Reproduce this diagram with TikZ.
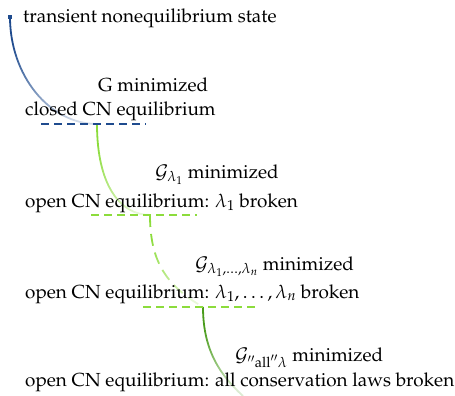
\documentclass[tikz,border=0pt]{standalone}
\usepackage[T1]{fontenc}
\usepackage{mathpazo}
\usetikzlibrary{fadings}
\tikzfading[name=fadeout, top color=transparent!0, bottom color=transparent!80]
\definecolor{cblue}{HTML}{1F4B8E}
\definecolor{clight}{HTML}{8CDC3C}
\definecolor{cdark}{HTML}{4A9C1C}
\begin{document}
\begin{tikzpicture}[x=1pt,y=-1pt,
  lbl/.style={anchor=base west, inner sep=0pt, font=\fontsize{18.9}{22}\selectfont},
  eqline/.style={line width=1.5pt, dash pattern=on 8pt off 5pt},
  trace/.style={line width=1.8pt, path fading=fadeout, fading angle=40}]
\useasboundingbox (0,0) rectangle (455,396);
% coordinates
\coordinate (s0) at (10,17);
\coordinate (b1) at (97,124);
\coordinate (b2) at (150,215);
\coordinate (b3) at (203,307);
\coordinate (end) at (243,396);
\coordinate (l1a) at (41,124); \coordinate (l1b) at (146,124);
\coordinate (l2a) at (91,215); \coordinate (l2b) at (197,215);
\coordinate (l3a) at (143,307); \coordinate (l3b) at (257,307);
% traces
\draw[trace, cblue] (s0) .. controls (10,75) and (49,124) .. (b1);
\draw[trace, clight] (b1) .. controls (97,185) and (120,215) .. (b2);
\draw[trace, clight, dash pattern=on 12pt off 7pt] (b2) .. controls (150,260) and (165,285) .. (b3);
\draw[trace, cdark] (b3) .. controls (203,350) and (220,375) .. (end);
\fill[cblue] (8.3,15) rectangle (11.7,19.5);
% equilibrium lines
\draw[eqline, cblue] (l1a) -- (l1b);
\draw[eqline, clight] (l2a) -- (l2b);
\draw[eqline, clight] (l3a) -- (l3b);
% texts
\node[lbl] (t0) at (23,23) {transient nonequilibrium state};
\node[lbl] (m1) at (98,92) {G minimized};
\node[lbl] (e1) at (25,115) {closed CN equilibrium};
\node[lbl] (m2) at (155,178) {$\mathcal{G}_{\lambda_1}$ minimized};
\node[lbl] (e2) at (25,207) {open CN equilibrium: $\lambda_1$ broken};
\node[lbl] (m3) at (195,270) {$\mathcal{G}_{\lambda_1,\dots,\lambda_n}$ minimized};
\node[lbl] (e3) at (25,298) {open CN equilibrium: $\lambda_1,\ldots,\lambda_n$ broken};
\node[lbl] (m4) at (235,361) {$\mathcal{G}_{''\mathrm{all}''\lambda}$ minimized};
\node[lbl] (e4) at (25,386) {open CN equilibrium: all conservation laws broken};
\end{tikzpicture}
\end{document}
